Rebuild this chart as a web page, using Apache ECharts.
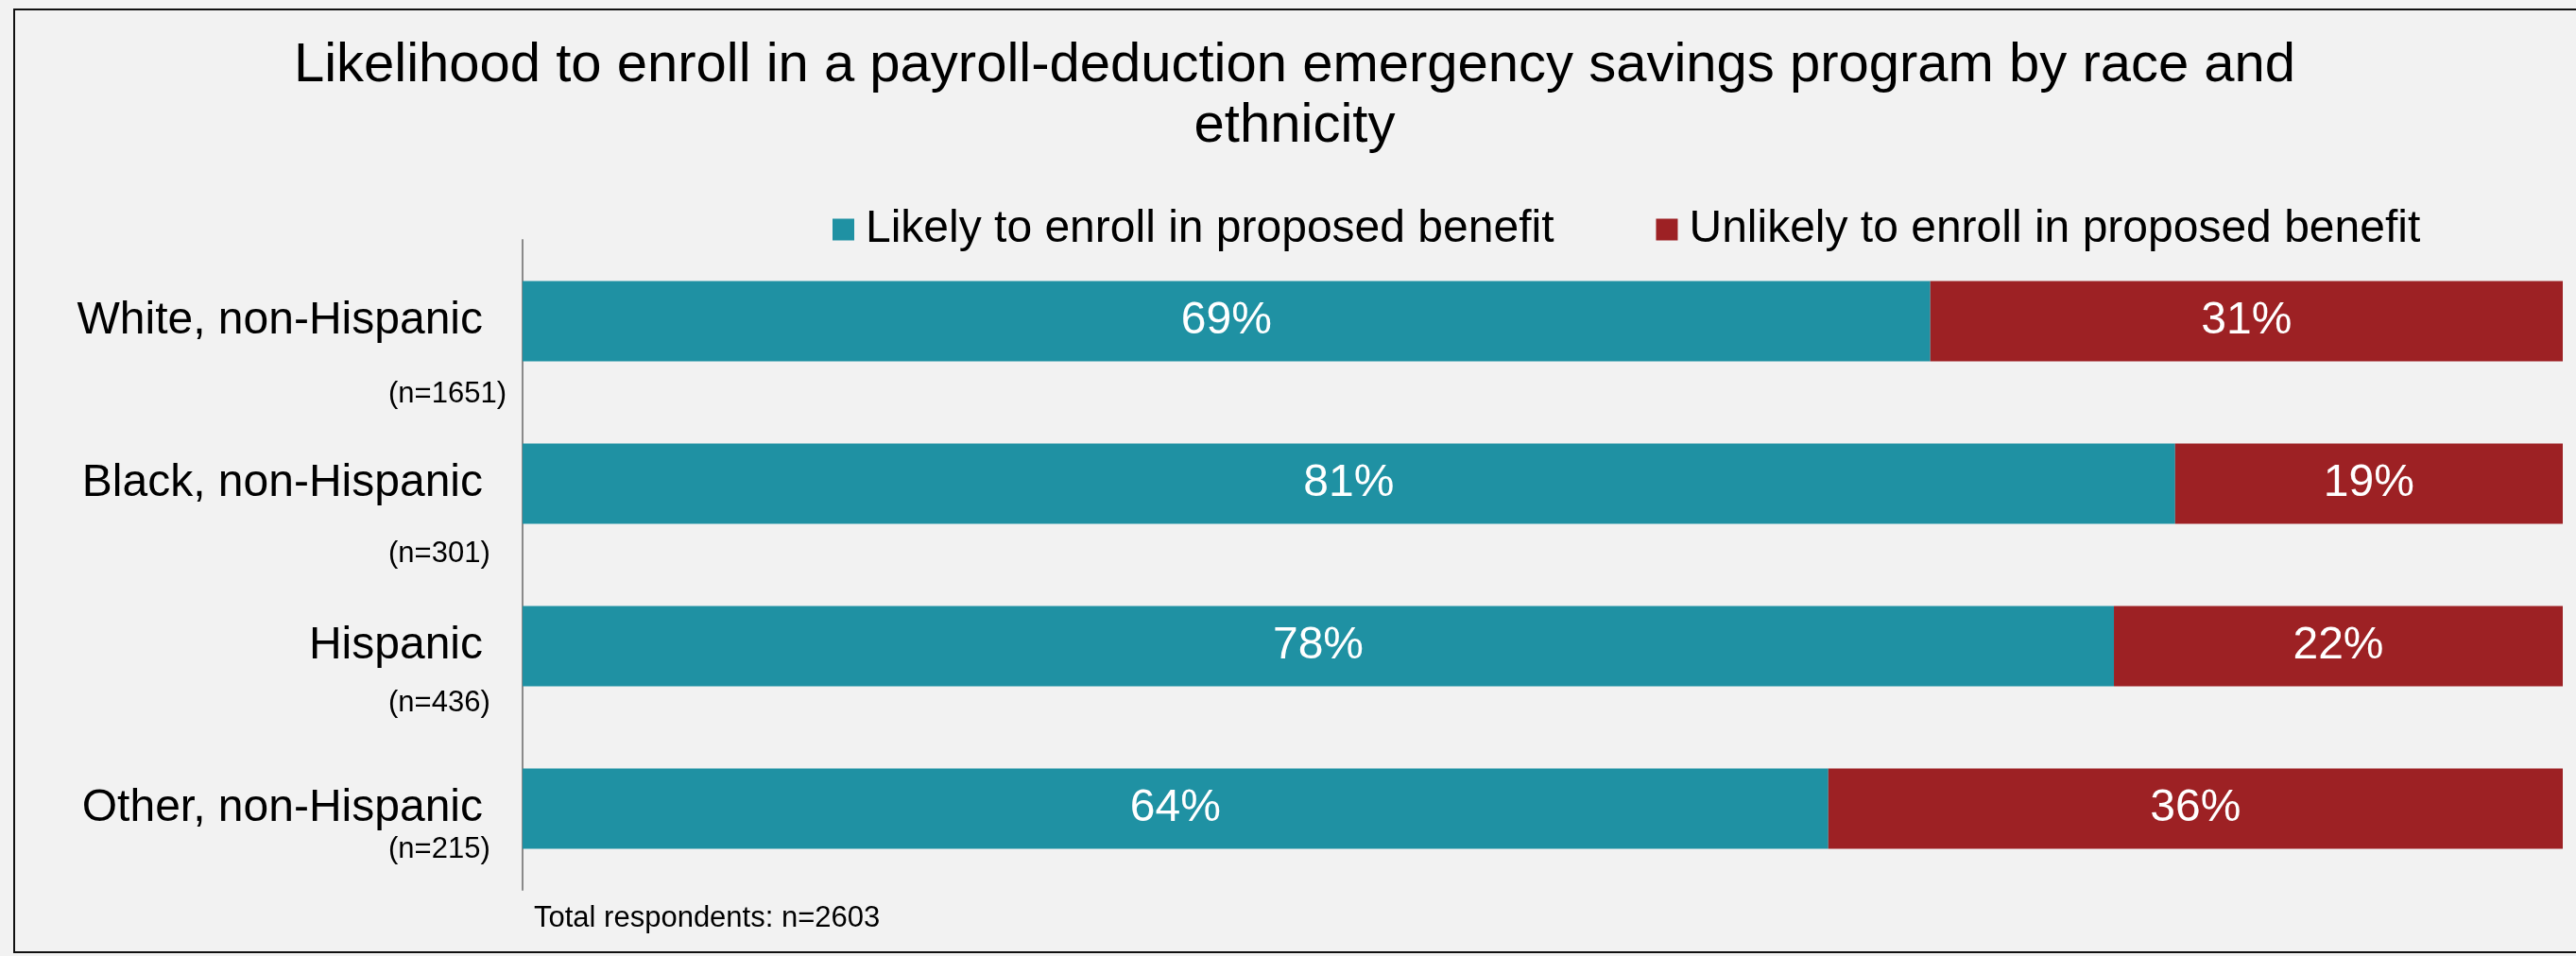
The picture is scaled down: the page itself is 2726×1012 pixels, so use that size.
<!DOCTYPE html>
<html>
<head>
<meta charset="utf-8">
<style>
    html, body {
        margin: 0;
        padding: 0;
        background: #f2f2f2;
    }
    #chart {
        width: 2726px;
        height: 1012px;
    }
</style>
</head>
<body>
<div id="chart"></div>
<script src="https://cdn.jsdelivr.net/npm/echarts@6/dist/echarts.min.js"></script>
<script>
    // data
    var groups = ["White, non-Hispanic", "Black, non-Hispanic", "Hispanic", "Other, non-Hispanic"];
    var groupSizes = ["(n=1651)", "(n=301)", "(n=436)", "(n=215)"];
    var likely = [69, 81, 78, 64];
    var unlikely = [31, 19, 22, 36];
    var seriesNames = ["Likely to enroll in proposed benefit", "Unlikely to enroll in proposed benefit"];
    var totalNote = "Total respondents: n=2603";

    // how far each (n=...) label sits below its bar centre, px
    var sizeLabelDrop = [77, 74, 60, 43];

    var font = "'Liberation Sans', Arial, sans-serif";
    var teal = "#1f91a3";
    var red = "#9d2124";

    var sizeRich = {};
    sizeLabelDrop.forEach(function (d, i) {
        sizeRich["n" + i] = {
            fontSize: 31,
            fontFamily: font,
            color: "#000",
            padding: [d * 2, 0, 0, 0]
        };
    });

    var myChart = echarts.init(document.getElementById("chart"));
    var option = {
        backgroundColor: "#f2f2f2",
        animation: false,
        title: [
            {
                text: "Likelihood to enroll in a payroll-deduction emergency savings program by race and\nethnicity",
                left: 1370,
                top: 38,
                padding: 0,
                textAlign: "center",
                textStyle: {
                    fontFamily: font,
                    fontSize: 58,
                    fontWeight: "normal",
                    lineHeight: 64,
                    color: "#000"
                }
            },
            {
                text: totalNote,
                left: 565,
                top: 957,
                padding: 0,
                textStyle: {
                    fontFamily: font,
                    fontSize: 31,
                    fontWeight: "normal",
                    lineHeight: 31,
                    color: "#000"
                }
            }
        ],
        legend: {
            data: seriesNames,
            left: 881,
            top: 219,
            padding: 0,
            itemWidth: 23,
            itemHeight: 23,
            itemGap: 108,
            icon: "rect",
            textStyle: {
                fontFamily: font,
                fontSize: 48,
                lineHeight: 48,
                color: "#000",
                padding: [0, 0, 0, 7]
            }
        },
        grid: {
            left: 553,
            right: 14,
            top: 254,
            bottom: 70,
            containLabel: false
        },
        xAxis: {
            type: "value",
            min: 0,
            max: 100,
            show: false
        },
        yAxis: [
            {
                type: "category",
                data: groups,
                inverse: true,
                axisLine: { show: true, lineStyle: { color: "#8a8a8a", width: 2 } },
                axisTick: { show: false },
                axisLabel: {
                    margin: 42,
                    fontFamily: font,
                    fontSize: 48,
                    color: "#000",
                    padding: [7, 0, 0, 0]
                }
            },
            {
                type: "category",
                data: groupSizes,
                inverse: true,
                position: "left",
                axisLine: { show: false },
                axisTick: { show: false },
                axisLabel: {
                    margin: 142,
                    align: "left",
                    formatter: function (value, index) {
                        return "{n" + index + "|" + value + "}";
                    },
                    rich: sizeRich
                }
            }
        ],
        series: [
            {
                name: seriesNames[0],
                type: "bar",
                stack: "all",
                yAxisIndex: 0,
                barWidth: 85,
                data: likely,
                itemStyle: { color: teal },
                label: {
                    show: true,
                    position: "inside",
                    formatter: "{c}%",
                    fontFamily: font,
                    fontSize: 48,
                    color: "#fff",
                    padding: [7, 0, 0, 0]
                }
            },
            {
                name: seriesNames[1],
                type: "bar",
                stack: "all",
                yAxisIndex: 0,
                barWidth: 85,
                data: unlikely,
                itemStyle: { color: red },
                label: {
                    show: true,
                    position: "inside",
                    formatter: "{c}%",
                    fontFamily: font,
                    fontSize: 48,
                    color: "#fff",
                    padding: [7, 0, 0, 0]
                }
            }
        ],
        graphic: [
            {
                type: "rect",
                shape: { x: 15, y: 10, width: 2800, height: 998 },
                style: { fill: null, stroke: "#111", lineWidth: 2 },
                silent: true
            }
        ]
    };
    option && myChart.setOption(option);
</script>
</body>
</html>
